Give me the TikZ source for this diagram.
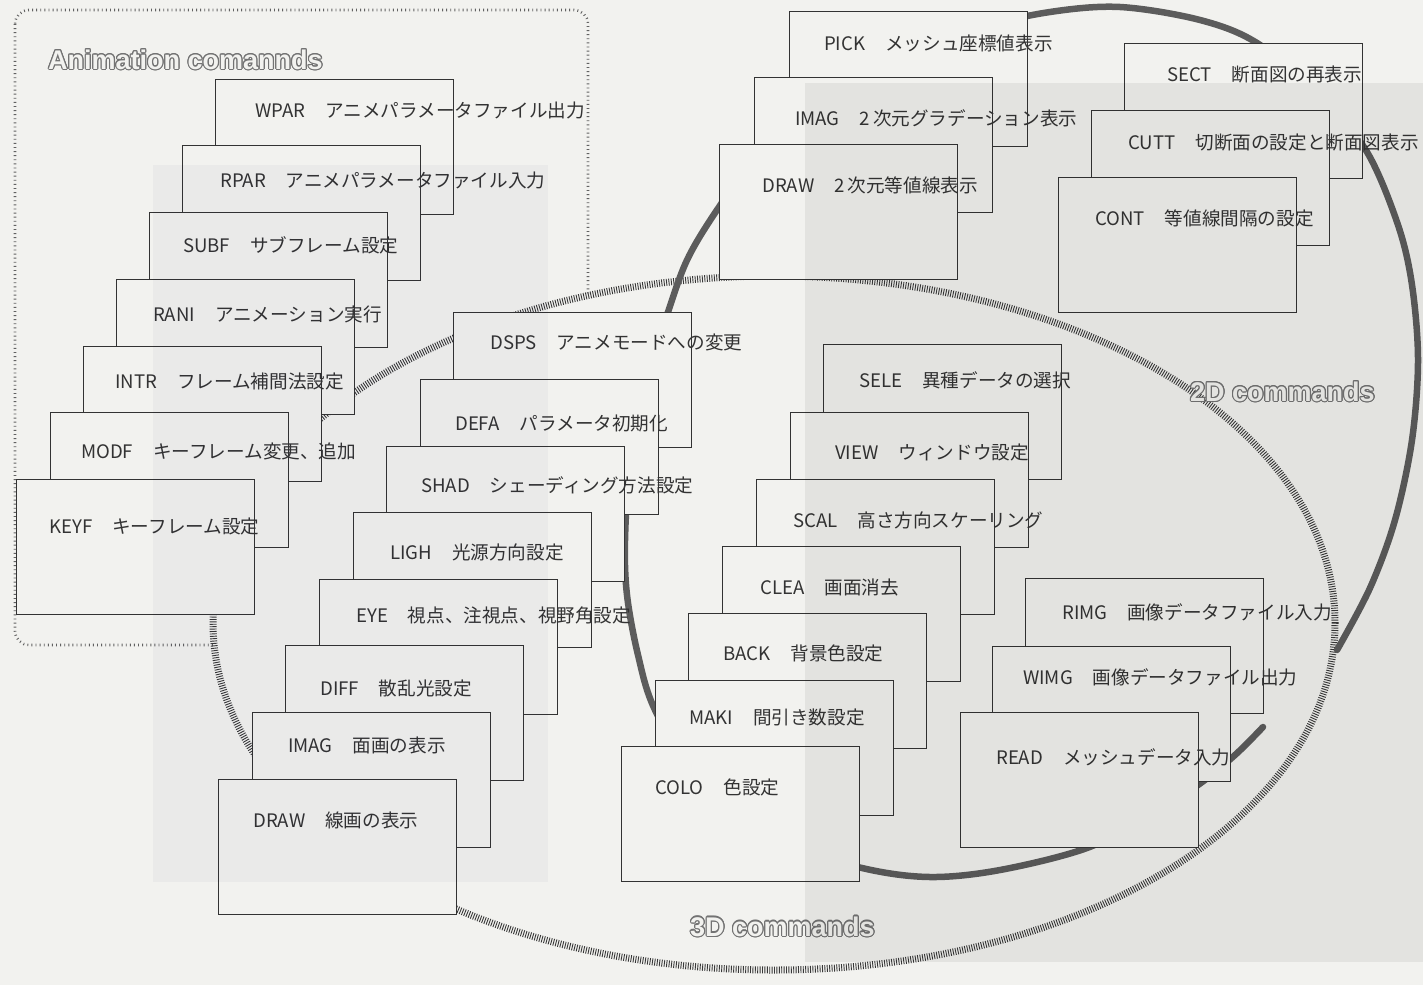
\documentclass[tikz,border=0pt]{standalone}
\usepackage{fontspec}
\setmainfont{Noto Sans CJK JP}
\newfontfamily\labfont{Liberation Sans}
\usepackage{contour}
\contourlength{1.1pt}
\definecolor{bg}{HTML}{F2F2EF}
\definecolor{ink}{HTML}{333333}
\newcommand\gapx{\hspace{20pt}}
\tikzset{
  cbox/.style={draw=ink, fill=bg, line width=1.1pt, minimum width=238pt, minimum height=135pt, anchor=north west, inner sep=0pt},
  ctext/.style={anchor=west, inner sep=0pt, text=ink, font=\fontsize{18.6}{20}\selectfont},
  biglab/.style={anchor=west, inner sep=0pt, text=bg, font=\labfont\bfseries\fontsize{27}{30}\selectfont},
  rope/.style={draw=black!64, line width=6.5pt, line cap=round},
  hatch/.style={draw=black!78, line width=7pt, dash pattern=on 0.9pt off 1.5pt},
  animborder/.style={draw=black!62, line width=2.6pt, dash pattern=on 0.9pt off 3.2pt, rounded corners=14pt}
}
\newcommand\cmdbox[6]{%
  \node[cbox] (#1) at (#2,#3) {};
  \node[ctext] (#1t) at (#2+#4,#3+#5) {#6};
}
\begin{document}
\begin{tikzpicture}[x=1pt,y=-1pt]
\useasboundingbox (0,0) rectangle (1423,985);
\fill[bg] (0,0) rectangle (1423,985);
% animation group border
\draw[animborder] (15,10) rectangle (588,645);
% 3D commands ellipse
\draw[hatch, fill=bg] (774,623) ellipse [x radius=561pt, y radius=347pt];
% 2D commands rope
\draw[rope] plot[smooth, tension=0.55] coordinates {
 (1337,650) (1370,588) (1395,520) (1412,440) (1418,360) (1412,285) (1398,225)
 (1367,152) (1320,95) (1257,43) (1200,20) (1120,7) (1050,12) (980,28) (900,60)
 (820,105) (760,152) (719,207) (688,258) (668,312) (645,385) (630,465) (625,540)
 (627,595) (638,655) (655,710) (700,785) (770,840) (862,868) (930,877) (1000,870)
 (1087,848) (1150,815) (1198,785) (1235,755) (1263,727)};
% animation commands
\cmdbox{wpar}{215}{79}{40}{31}{WPAR\gapx アニメパラメータファイル出力}
\cmdbox{rpar}{182}{145}{38}{35}{RPAR\gapx アニメパラメータファイル入力}
\cmdbox{subf}{149}{212}{34}{33}{SUBF\gapx サブフレーム設定}
\cmdbox{rani}{116}{279}{37}{35}{RANI\gapx アニメーション実行}
\cmdbox{intr}{83}{346}{32}{35}{INTR\gapx フレーム補間法設定}
\cmdbox{modf}{50}{412}{31}{39}{MODF\gapx キーフレーム変更、追加}
\cmdbox{keyf}{16}{479}{33}{47}{KEYF\gapx キーフレーム設定}
% 3D commands, left stack
\cmdbox{dsps}{453}{312}{37}{30}{DSPS\gapx アニメモードへの変更}
\cmdbox{defa}{420}{379}{35}{44}{DEFA\gapx パラメータ初期化}
\cmdbox{shad}{386}{446}{35}{39}{SHAD\gapx シェーディング方法設定}
\cmdbox{ligh}{353}{512}{37}{40}{LIGH\gapx 光源方向設定}
\cmdbox{eye}{319}{579}{37}{36}{EYE\gapx 視点、注視点、視野角設定}
\cmdbox{diff}{285}{645}{35}{43}{DIFF\gapx 散乱光設定}
\cmdbox{imag}{252}{712}{36}{33}{IMAG\gapx 面画の表示}
\cmdbox{draw}{218}{779}{35}{41}{DRAW\gapx 線画の表示}
% 3D commands, middle stack
\cmdbox{sele}{823}{344}{36}{36}{SELE\gapx 異種データの選択}
\cmdbox{view}{790}{412}{45}{40}{VIEW\gapx ウィンドウ設定}
\cmdbox{scal}{756}{479}{37}{41}{SCAL\gapx 高さ方向スケーリング}
\cmdbox{clea}{722}{546}{38}{41}{CLEA\gapx 画面消去}
\cmdbox{back}{688}{613}{35}{40}{BACK\gapx 背景色設定}
\cmdbox{maki}{655}{680}{34}{37}{MAKI\gapx 間引き数設定}
\cmdbox{colo}{621}{746}{34}{41}{COLO\gapx 色設定}
% 2D commands, bottom right
\cmdbox{rimg}{1025}{578}{37}{34}{RIMG\gapx 画像データファイル入力}
\cmdbox{wimg}{992}{646}{31}{31}{WIMG\gapx 画像データファイル出力}
\cmdbox{read}{960}{712}{36}{45}{READ\gapx メッシュデータ入力}
% 2D commands, top
\cmdbox{pick}{789}{11}{35}{32}{PICK\gapx メッシュ座標値表示}
\cmdbox{imagb}{754}{77}{41}{41}{IMAG\gapx 2\,次元グラデーション表示}
\cmdbox{drawb}{719}{144}{43}{41}{DRAW\gapx 2\,次元等値線表示}
\cmdbox{sect}{1124}{43}{43}{32}{SECT\gapx 断面図の再表示}
\cmdbox{cutt}{1091}{110}{37}{33}{CUTT\gapx 切断面の設定と断面図表示}
\cmdbox{cont}{1058}{177}{37}{41}{CONT\gapx 等値線間隔の設定}
% group labels
\node[biglab] (animlab) at (48,60) {\contour{black!55}{Animation comannds}};
\node[biglab] (lab2d) at (1190,392) {\contour{black!55}{2D commands}};
\node[biglab] (lab3d) at (690,927) {\contour{black!55}{3D commands}};
% print-through tint of the scanned page
\fill[black, opacity=0.06] (805,83) rectangle (1423,962);
\fill[blue!30!black, opacity=0.03] (153,165) rectangle (548,882);
\end{tikzpicture}
\end{document}
